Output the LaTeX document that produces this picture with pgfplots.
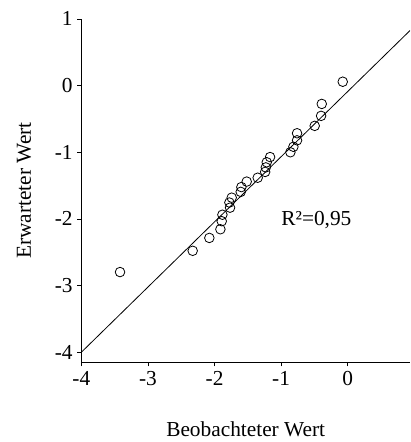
\documentclass[border=0pt]{standalone}
\usepackage{fontspec}
\setmainfont{Liberation Serif}
\usepackage{pgfplots}
\pgfplotsset{compat=1.18}

\begin{document}
\begin{tikzpicture}
% fixed frame: 410x442 px at 0.75pt per px
\path[use as bounding box] (-61pt,-59.8pt) rectangle (246.5pt,271.7pt);
\begin{axis}[
    at={(0,0)}, anchor=south west,
    scale only axis,
    width=246.5pt, height=257.5pt,
    xmin=-4, xmax=0.935,
    ymin=-4.15, ymax=1,
    axis x line*=bottom, axis y line*=left,
    axis line style={black, line width=0.7pt},
    xtick={-4,-3,-2,-1,0}, xticklabels={-4,-3,-2,-1,0},
    ytick={-4,-3,-2,-1,0,1}, yticklabels={-4,-3,-2,-1,0,1},
    tick align=outside, major tick length=3pt,
    tick style={black, line width=0.6pt},
    font=\fontsize{16}{19}\selectfont,
    xlabel={Beobachteter Wert},
    ylabel={Erwarteter Wert},
    xlabel style={at={(axis description cs:0.5,-0.196)}, anchor=center},
    ylabel style={at={(axis description cs:-0.174,0.5)}, anchor=center},
    clip=true,
]
% regression line
\addplot[black, line width=0.6pt] coordinates {(-4,-4.0) (0.935,0.826)};

% observations
\addplot[only marks, mark=o, mark size=3.6pt, mark options={black, line width=0.6pt}] coordinates {
(-0.075,0.058) (-0.39,-0.275) (-0.40,-0.454) (-0.496,-0.604)
(-0.761,-0.715) (-0.761,-0.821) (-0.816,-0.918) (-0.861,-1.0)
(-1.166,-1.072) (-1.216,-1.15) (-1.23,-1.227) (-1.24,-1.295)
(-1.352,-1.382) (-1.517,-1.44) (-1.597,-1.522) (-1.607,-1.594)
(-1.742,-1.681) (-1.777,-1.754) (-1.767,-1.831) (-1.882,-1.937)
(-1.892,-2.034) (-1.912,-2.155) (-2.078,-2.285) (-2.328,-2.478)
(-3.419,-2.797)
};

\node[anchor=base, inner sep=0pt] at (axis cs:-0.471,-2.097) {R²=0,95};
\end{axis}
\end{tikzpicture}
\end{document}
